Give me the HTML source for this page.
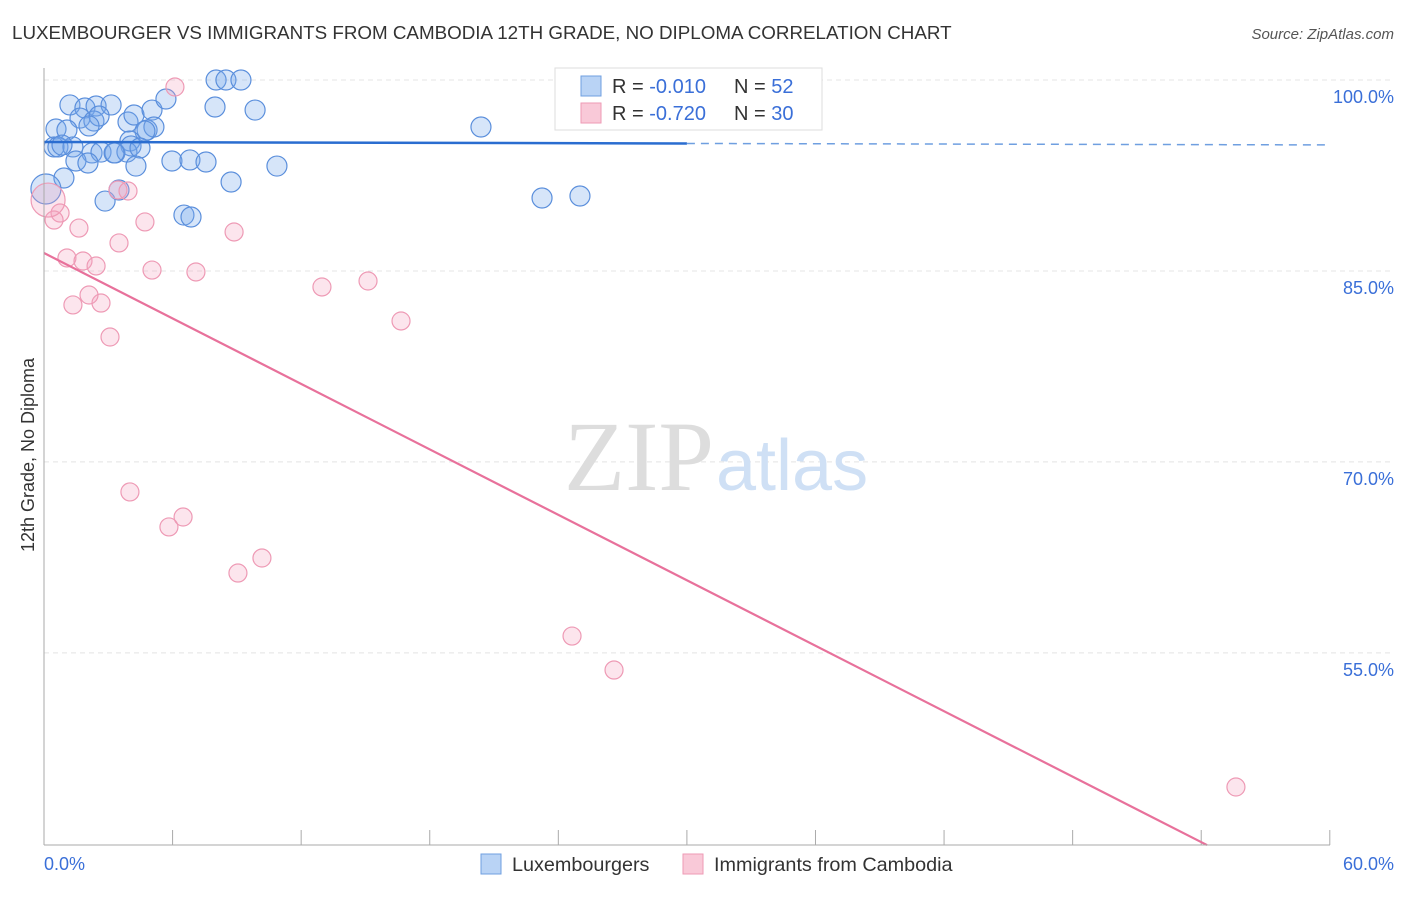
<!DOCTYPE html>
<html><head><meta charset="utf-8"><style>
body{margin:0;background:#fff;font-family:"Liberation Sans",sans-serif;}
</style></head><body>
<svg width="1406" height="892" xmlns="http://www.w3.org/2000/svg" font-family="Liberation Sans, sans-serif">
<text x="12" y="39" font-size="18.8" fill="#333">LUXEMBOURGER VS IMMIGRANTS FROM CAMBODIA 12TH GRADE, NO DIPLOMA CORRELATION CHART</text>
<text x="1394" y="39" font-size="15" fill="#555" font-style="italic" text-anchor="end">Source: ZipAtlas.com</text>
<g id="grid"></g>
<text x="714" y="490" font-size="100" fill="#ddd" text-anchor="end" font-family="Liberation Serif, serif">ZIP</text>
<text x="716" y="490" font-size="72" fill="#cfe0f5">atlas</text>
<g id="marks"></g>
<line x1="44" y1="68" x2="44" y2="845" stroke="#aaa" stroke-width="1"/>
<line x1="44" y1="845" x2="1330" y2="845" stroke="#aaa" stroke-width="1"/>
<text transform="translate(34,455) rotate(-90)" font-size="18" fill="#333" text-anchor="middle">12th Grade, No Diploma</text>
<text x="44" y="870" font-size="18" fill="#3a6fd8">0.0%</text>
<text x="1394" y="870" font-size="18" fill="#3a6fd8" text-anchor="end">60.0%</text>
<g>
<rect x="555" y="68" width="267" height="62" fill="#fff" stroke="#ddd"/>
<rect x="581" y="76" width="20" height="20" fill="#b9d3f5" stroke="#6f9fe0"/>
<rect x="581" y="103" width="20" height="20" fill="#f9c9d8" stroke="#ee9ab5"/>
<text x="612" y="93" font-size="20" fill="#333">R = <tspan fill="#3a6fd8">-0.010</tspan></text>
<text x="734" y="93" font-size="20" fill="#333">N = <tspan fill="#3a6fd8">52</tspan></text>
<text x="612" y="120" font-size="20" fill="#333">R = <tspan fill="#3a6fd8">-0.720</tspan></text>
<text x="734" y="120" font-size="20" fill="#333">N = <tspan fill="#3a6fd8">30</tspan></text>
</g>
<g>
<rect x="481" y="854" width="20" height="20" fill="#b9d3f5" stroke="#6f9fe0"/>
<text x="512" y="871" font-size="19.8" fill="#333">Luxembourgers</text>
<rect x="683" y="854" width="20" height="20" fill="#f9c9d8" stroke="#ee9ab5"/>
<text x="714" y="871" font-size="19.8" fill="#333">Immigrants from Cambodia</text>
</g>
</svg>
<script>
const blueX=[8.03,8.49,9.19,1.21,1.91,2.43,3.13,1.68,2.33,2.57,3.92,4.20,5.04,5.69,7.98,9.85,0.56,1.07,2.10,4.81,5.13,4.71,0.47,0.65,1.35,0.84,4.01,4.06,2.24,2.66,3.31,3.87,4.48,1.49,2.05,4.29,5.97,6.81,7.56,10.87,0.93,8.73,0.09,2.85,6.53,6.86,20.39,23.24,25.01,3.50,3.27,26.93];
const blueY=[100,100,100,98.04,97.80,97.96,98.04,97.01,96.78,97.17,96.70,97.25,97.64,98.51,97.88,97.64,96.15,96.07,96.39,96.07,96.31,95.99,94.74,94.74,94.74,94.89,95.21,94.82,94.27,94.34,94.27,94.34,94.66,93.64,93.48,93.24,93.64,93.72,93.56,93.24,92.30,91.99,91.44,90.49,89.39,89.24,96.31,90.73,90.89,91.36,94.27,100];
const pinkX=[6.11,3.45,3.92,0.75,0.47,1.63,3.50,4.71,8.87,1.07,1.82,2.43,5.04,7.09,12.97,15.12,1.35,2.66,2.10,3.08,16.66,4.01,5.83,6.49,9.05,10.17,24.64,26.60,55.62,0.19];
const pinkY=[99.45,91.36,91.28,89.55,89.00,88.37,87.20,88.85,88.06,86.02,85.78,85.39,85.07,84.92,83.74,84.21,82.33,82.48,83.11,79.81,81.07,67.64,64.89,65.67,61.27,62.45,56.32,53.65,44.46,90.57];
const yTicks=[100,85,70,55];
const yTickLabels=["100.0%","85.0%","70.0%","55.0%"];
const xTicks=[0,6,12,18,24,30,36,42,48,54,60];
const blueTrend=[95.13,94.9];
const pinkTrend=[86.41,-0.857];
const sx=v=>44+v*21.43, sy=v=>80+(100-v)*12.73;
const NS="http://www.w3.org/2000/svg";
const grid=document.getElementById('grid'),marks=document.getElementById('marks');
function mk(tag,attrs,parent){const e=document.createElementNS(NS,tag);for(const k in attrs)e.setAttribute(k,attrs[k]);parent.appendChild(e);return e;}
yTicks.forEach((t,i)=>{
 const l=mk('line',{x1:44,x2:1394,y1:sy(t),y2:sy(t),stroke:'#e4e4e4','stroke-dasharray':'5,4'},grid);
 
 
 const tx=mk('text',{x:1394,y:sy(t)+23,'font-size':18,fill:'#3a6fd8','text-anchor':'end'},grid);
 tx.textContent=yTickLabels[i];
 
 
});
xTicks.forEach(t=>{
 const l=mk('line',{x1:sx(t),x2:sx(t),y1:830,y2:845,stroke:'#aaa'},grid);
 
 
});
blueX.forEach((x,i)=>{
 const r=(i==42)?15:10;
 const c=mk('circle',{cx:sx(x),cy:sy(blueY[i]),r:r,fill:'rgba(120,170,235,0.3)',stroke:'#5b8fdc','stroke-width':1.2},marks);
 
 
});
pinkX.forEach((x,i)=>{
 const r=(i==29)?17:9;
 const c=mk('circle',{cx:sx(x),cy:sy(pinkY[i]),r:r,fill:'rgba(245,160,190,0.28)',stroke:'#ee9ab5','stroke-width':1.2},marks);
 
 
});
const by=x=>blueTrend[0]+(blueTrend[1]-blueTrend[0])*x/60;
let l1=mk('line',{x1:sx(0),y1:sy(by(0)),x2:sx(30),y2:sy(by(30)),stroke:'#2a6dd0','stroke-width':2.5},marks);


let l2=mk('line',{x1:sx(30),y1:sy(by(30)),x2:sx(60),y2:sy(by(60)),stroke:'#6f9fe0','stroke-width':1.5,'stroke-dasharray':'8,6'},marks);


const xEnd=(39.9-pinkTrend[0])/pinkTrend[1];
let l3=mk('line',{x1:sx(0),y1:sy(pinkTrend[0]),x2:sx(xEnd),y2:sy(pinkTrend[0]+pinkTrend[1]*xEnd),stroke:'#e8719b','stroke-width':2.2},marks);


</script>
</body></html>
